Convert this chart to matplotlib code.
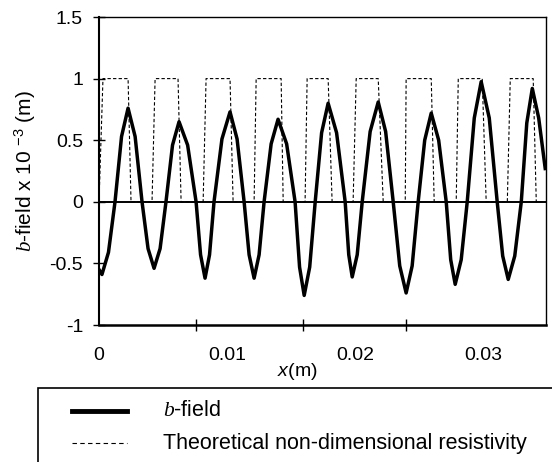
import matplotlib
matplotlib.use("Agg")
import matplotlib.pyplot as plt
from matplotlib.patches import Rectangle
from matplotlib.lines import Line2D

plt.rcParams["font.family"] = ["Liberation Sans", "DejaVu Sans"]
plt.rcParams["mathtext.fontset"] = "custom"
plt.rcParams["mathtext.rm"] = "Liberation Sans"
plt.rcParams["mathtext.it"] = "Liberation Serif:italic"
plt.rcParams["mathtext.sf"] = "Liberation Sans:italic"

# =========================
# data
# =========================
# b-field (x 10^-3 m) along x (m)
bfield_x = [0, 0.00023, 0.00074, 0.00125, 0.00176, 0.00227, 0.00282, 0.00336,
            0.00383, 0.0043, 0.00477, 0.00523, 0.00574, 0.00625, 0.00692, 0.00758,
            0.00793, 0.00828, 0.00863, 0.00898, 0.0096, 0.01023, 0.01078, 0.01133,
            0.01172, 0.01211, 0.0125, 0.01289, 0.01344, 0.01398, 0.01465, 0.01531,
            0.01566, 0.01602, 0.01645, 0.01688, 0.01738, 0.01789, 0.01855, 0.01922,
            0.0195, 0.01977, 0.02016, 0.02055, 0.02117, 0.0218, 0.02238, 0.02297,
            0.02348, 0.02398, 0.02445, 0.02492, 0.02543, 0.02594, 0.02652, 0.02711,
            0.02746, 0.02781, 0.02828, 0.02875, 0.0293, 0.02984, 0.03047, 0.03109,
            0.03152, 0.03195, 0.03246, 0.03297, 0.0334, 0.03383, 0.03433, 0.03484]
bfield_y = [-0.55, -0.59, -0.41, 0, 0.53, 0.76, 0.53, 0,
            -0.38, -0.54, -0.38, 0, 0.46, 0.65, 0.46, 0,
            -0.43, -0.62, -0.43, 0, 0.51, 0.73, 0.51, 0,
            -0.43, -0.62, -0.43, 0, 0.47, 0.67, 0.47, 0,
            -0.53, -0.76, -0.53, 0, 0.56, 0.80, 0.56, 0,
            -0.43, -0.61, -0.43, 0, 0.57, 0.81, 0.57, 0,
            -0.52, -0.74, -0.52, 0, 0.50, 0.72, 0.50, 0,
            -0.47, -0.67, -0.47, 0, 0.68, 0.975, 0.68, 0,
            -0.44, -0.63, -0.44, 0, 0.64, 0.92, 0.68, 0.27]

# theoretical non-dimensional resistivity (square pulses)
resist_x = [0, 0.00031, 0.00227, 0.0025,
            0.00414, 0.00438, 0.00617, 0.00641,
            0.00813, 0.00836, 0.01023, 0.01047,
            0.01211, 0.01227, 0.01422, 0.01438,
            0.01609, 0.01625, 0.01789, 0.0182,
            0.01984, 0.02008, 0.0218, 0.02219,
            0.02391, 0.02398, 0.02594, 0.02617,
            0.02789, 0.02805, 0.02992, 0.03023,
            0.03188, 0.03211, 0.0339, 0.03414, 0.03484]
resist_y = [0, 1, 1, 0,
            0, 1, 1, 0,
            0, 1, 1, 0,
            0, 1, 1, 0,
            0, 1, 1, 0,
            0, 1, 1, 0,
            0, 1, 1, 0,
            0, 1, 1, 0,
            0, 1, 1, 0, 0]

y_ticks = [-1, -0.5, 0, 0.5, 1, 1.5]
y_labels = ["-1", "-0.5", "0", "0.5", "1", "1.5"]
x_ticks = [0, 0.01, 0.02, 0.03]
x_labels = ["0", "0.01", "0.02", "0.03"]
x_tick_marks = [0.0076, 0.0159, 0.024]

W, H = 552, 462
fig = plt.figure(figsize=(W / 100, H / 100), dpi=100)
ax = fig.add_axes([99 / W, 1 - 325 / H, (546 - 99) / W, (325 - 17) / H])

ax.axhline(0, color="black", lw=1.4, zorder=1)
ax.plot(resist_x, resist_y, color="black", lw=0.8, ls=(0, (3, 2)), zorder=2)
ax.plot(bfield_x, bfield_y, color="black", lw=2.5, zorder=3)

ax.set_xlim(0, 0.0349)
ax.set_ylim(-1, 1.5)

ax.set_yticks(y_ticks)
ax.set_yticklabels(y_labels)
ax.set_xticks(x_ticks)
ax.set_xticklabels(x_labels)
ax.set_xticks(x_tick_marks, minor=True)
ax.tick_params(axis="y", direction="inout", length=9, width=1.0, pad=7, labelsize=14)
ax.tick_params(axis="x", which="major", length=0, pad=16, labelsize=14)
ax.tick_params(axis="x", which="minor", direction="inout", length=9, width=1.0)

ax.spines["left"].set_linewidth(1.5)
ax.spines["bottom"].set_linewidth(1.8)
ax.spines["top"].set_linewidth(1.0)
ax.spines["right"].set_linewidth(1.0)

ax.set_ylabel("$b$-field x 10 $^{-3}$ (m)", fontsize=15, labelpad=8)
fig.text(297 / W, 1 - 372 / H, r"$\mathsf{x}$(m)", fontsize=14,
         ha="center", va="center")

# =========================
# legend box (bottom, runs off the page)
# =========================
def px(x, y):
    return x / W, 1 - y / H

box_x, box_y = px(38, 388)
fig.patches.append(Rectangle((box_x, 1 - 480 / H), 600 / W, box_y - (1 - 480 / H),
                             transform=fig.transFigure, fill=False,
                             edgecolor="black", lw=1.2))

x0, y0 = px(72, 411)
x1, _ = px(127, 411)
fig.lines.append(Line2D([x0, x1], [y0, y0], transform=fig.transFigure,
                        color="black", lw=3.5))
x0, y1 = px(72, 443)
fig.lines.append(Line2D([x0, x1], [y1, y1], transform=fig.transFigure,
                        color="black", lw=0.8, ls=(0, (4, 3))))

tx, _ = px(163, 0)
fig.text(tx, y0, "$b$-field", fontsize=15.5, ha="left", va="center")
fig.text(tx, y1, "Theoretical non-dimensional resistivity", fontsize=15.5,
         ha="left", va="center")

fig.savefig("out.png", dpi=100)
